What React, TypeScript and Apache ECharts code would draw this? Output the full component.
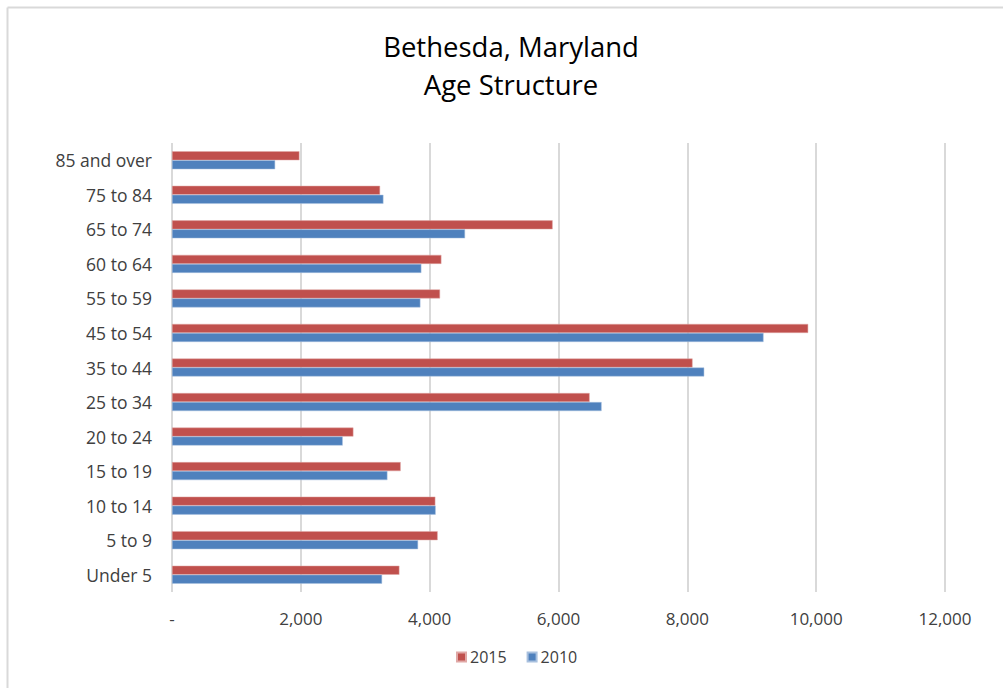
import React, { useEffect, useRef } from "react";
import * as echarts from "echarts";

const categories = ["Under 5", "5 to 9", "10 to 14", "15 to 19", "20 to 24", "25 to 34", "35 to 44", "45 to 54", "55 to 59", "60 to 64", "65 to 74", "75 to 84", "85 and over"];
const values2015 = [3530, 4124, 4088, 3550, 2816, 6483, 8081, 9876, 4161, 4182, 5909, 3230, 1978];
const values2010 = [3261, 3820, 4093, 3344, 2650, 6669, 8262, 9183, 3856, 3871, 4549, 3282, 1601];
const xTicks = [0, 2000, 4000, 6000, 8000, 10000, 12000];
const titleLines = ["Bethesda, Maryland", "Age Structure"];

const FONT = "'Open Sans', sans-serif";

export default function App() {
  const ref = useRef<HTMLDivElement>(null);
  useEffect(() => {
    const chart = echarts.init(ref.current!, null, { renderer: "svg" });
    chart.setOption({
      animation: false,
      backgroundColor: "#ffffff",
      graphic: [
        { type: "line", shape: { x1: 7.5, y1: 7.5, x2: 1003, y2: 7.5 }, style: { stroke: "#d9d9d9", lineWidth: 2 } },
        { type: "line", shape: { x1: 7.5, y1: 7.5, x2: 7.5, y2: 688 }, style: { stroke: "#d9d9d9", lineWidth: 2 } },
        ...titleLines.map((t, i) => ({
          type: "text",
          x: 511,
          y: 46 + i * 38,
          style: {
            text: t,
            textAlign: "center",
            textVerticalAlign: "middle",
            fontFamily: FONT,
            fontSize: 27.5,
            fill: "#000000",
          },
        })),
      ],
      legend: {
        data: ["2015", "2010"],
        bottom: 18,
        left: 451,
        itemWidth: 9,
        itemHeight: 9,
        itemGap: 20,
        icon: "rect",
        textStyle: { fontFamily: FONT, fontSize: 16, color: "#404040", padding: [0, 0, 0, -1] },
      },
      grid: { left: 172, right: 58, top: 143, bottom: 96, containLabel: false },
      xAxis: {
        type: "value",
        min: xTicks[0],
        max: xTicks[xTicks.length - 1],
        interval: 2000,
        axisLine: { show: false },
        axisTick: { show: false },
        splitLine: { show: true, lineStyle: { color: "#d9d9d9", width: 2 } },
        axisLabel: {
          margin: 18,
          fontFamily: FONT,
          fontSize: 17,
          color: "#404040",
          formatter: (v: number) => (v === 0 ? "-" : v.toLocaleString("en-US")),
        },
      },
      yAxis: {
        type: "category",
        data: categories,
        axisLine: { show: false },
        axisTick: { show: false },
        axisLabel: { margin: 20, fontFamily: FONT, fontSize: 17.5, color: "#404040" },
      },
      series: [
        {
          name: "2015",
          type: "bar",
          data: values2015,
          barWidth: 9,
          barGap: "0%",
          itemStyle: { color: "#C0504D", borderColor: "#e0a8a6", borderWidth: 0.5 },
        },
        {
          name: "2010",
          type: "bar",
          data: values2010,
          barWidth: 9,
          barGap: "0%",
          itemStyle: { color: "#4F81BD", borderColor: "#a8c0de", borderWidth: 0.5 },
        },
      ],
    });
    return () => chart.dispose();
  }, []);
  return <div ref={ref} style={{ position: "fixed", left: 0, top: 0, width: 1003, height: 688 }} />;
}
